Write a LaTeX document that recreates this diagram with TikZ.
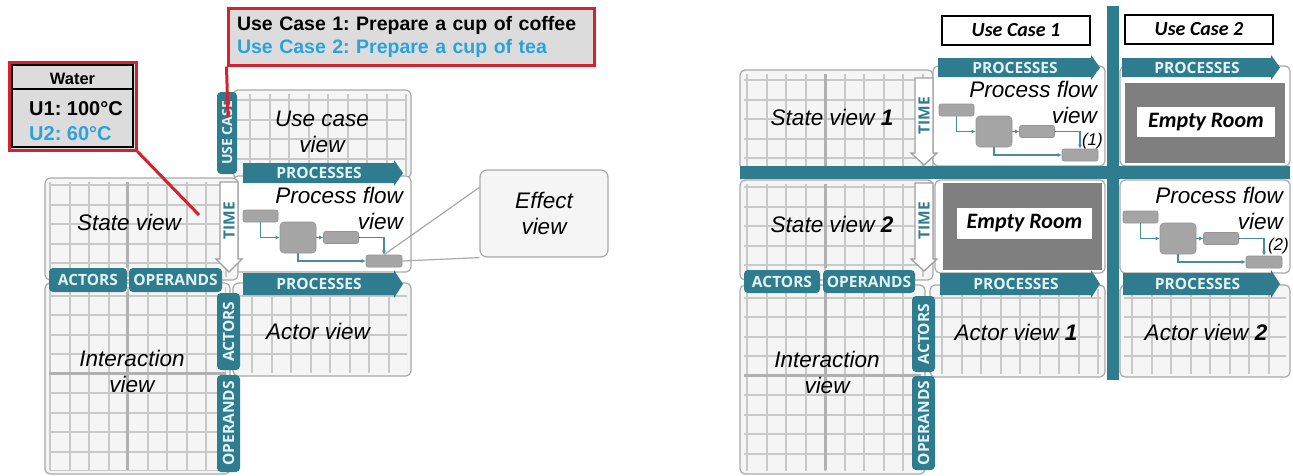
\documentclass[tikz,border=0pt]{standalone}
\usepackage{fontspec}
\setmainfont{Liberation Sans}
\newfontfamily\tabfam{Open Sans}
\newfontfamily\calfam{Carlito}
\usetikzlibrary{arrows.meta}
\frenchspacing

\definecolor{tealbar}{HTML}{2F7C8E}
\definecolor{tabtext}{HTML}{E2F2F5}
\definecolor{callred}{HTML}{D2232E}
\definecolor{callblue}{HTML}{2AA3DD}
\definecolor{gridgray}{HTML}{C9C9C9}
\definecolor{framegray}{HTML}{A9A9A9}
\definecolor{cellgray}{HTML}{F5F5F5}
\definecolor{boxgray}{HTML}{A5A5A5}
\definecolor{roomgray}{HTML}{7F7F7F}
\definecolor{flowteal}{HTML}{4B8D9D}
\definecolor{notegray}{HTML}{DCDCDC}

\tikzset{
  panelframe/.style={draw=framegray, line width=1.2, fill=cellgray, rounded corners=5},
  whitepanel/.style={draw=framegray, line width=1.2, fill=white, rounded corners=5},
  gridline/.style={draw=gridgray, line width=2},
  thickgrid/.style={draw=gridgray!88!black, line width=3},
  tabfont/.style={font=\tabfam\bfseries\fontsize{15.5}{16}\selectfont},
  tabbox/.style={tabfont, fill=tealbar, rounded corners=4, text=tabtext, inner sep=0},
  vtabbox/.style={tabbox, rotate=90},
  proctext/.style={tabfont, text=tabtext, inner sep=0},
  timeframe/.style={draw=gray!75, fill=white, line width=1.3, line join=miter},
  timetext/.style={tabfont, text=tealbar, rotate=90, inner sep=0},
  viewlabel/.style={inner sep=0, font=\itshape\fontsize{22.5}{26}\selectfont},
  fbox/.style={fill=boxgray, draw=boxgray!90!black, line width=0.6, rounded corners=2, inner sep=0},
  flow/.style={draw=flowteal, line width=1.1, -{Latex[length=4pt,width=4pt]}},
  redline/.style={draw=callred, line width=3},
  casebox/.style={draw=black, line width=1.5, fill=white, minimum width=148, minimum height=29,
    inner sep=0, font=\calfam\bfseries\itshape\fontsize{20}{22}\selectfont},
  roomfill/.style={fill=roomgray, inner sep=0},
  roomlabel/.style={fill=white, inner sep=0, font=\calfam\bfseries\itshape\fontsize{22}{24}\selectfont},
}

% grid panel: x1 y1 x2 y2, first vertical grid line, first horizontal grid line
\newcommand\gridpanel[6]{%
  \draw[panelframe] (#1,#2) rectangle (#3,#4);
  \begin{scope}
    \clip (#1+4,#2+4) rectangle (#3-4,#4-4);
    \foreach \k in {0,...,10} {
      \draw[gridline] ({#5+\k*19.5},#2) -- ({#5+\k*19.5},#4);
      \draw[gridline] (#1,{#6+\k*19.5}) -- (#3,{#6+\k*19.5});
    }
  \end{scope}
}

% teal arrow labelled PROCESSES: name x1 y1 x2 y2
\newcommand\procarrow[5]{%
  \fill[tealbar] (#2,#3) -- (#4-9,#3) -- (#4-9,#3-3) -- (#4,{(#3+#5)/2})
    -- (#4-9,#5+3) -- (#4-9,#5) -- (#2,#5) -- cycle;
  \node[proctext] (#1) at ({(#2+#4)/2-4},{(#3+#5)/2}) {PROCESSES};
}

% downward TIME arrow: name x1 y1 x2 y(head start) y(tip)
\newcommand\timetab[6]{%
  \draw[timeframe] (#2,#3) -- (#4,#3) -- (#4,#5) -- (#4+4,#5) -- ({(#2+#4)/2},#6)
    -- (#2-4,#5) -- (#2,#5) -- cycle;
  \node[timetext] (#1) at ({(#2+#4)/2},{(#3+#5)/2}) {TIME};
}

% small process flow: prefix, top-left corner of the first box
\newcommand\miniflow[3]{%
  \node[fbox, minimum width=35, minimum height=12] (#1a) at (#2+17.5,#3+6) {};
  \node[fbox, minimum width=36, minimum height=31, rounded corners=4] (#1b) at (#2+55,#3+27.5) {};
  \node[fbox, minimum width=35, minimum height=12] (#1c) at (#2+98,#3+27.5) {};
  \node[fbox, minimum width=36, minimum height=12] (#1d) at (#2+141,#3+51) {};
  \draw[flow] (#1a.south) |- (#1b.west);
  \draw[flow] (#1b.east) -- (#1c.west);
  \draw[flow] (#1c.east) -| (#1d.north);
  \draw[flow] (#1b.south) |- (#1d.west);
}

\begin{document}
\begin{tikzpicture}[x=1pt, y=-1pt]
\fill[white] (0,0) rectangle (1293,475);
\path[use as bounding box] (0,0) rectangle (1293,475);

% ================= single use case =================
% panels
\gridpanel{233}{90}{411}{178}{250}{100}
\draw[whitepanel] (233,176) rectangle (411,272);
\gridpanel{45}{178}{238}{280}{50}{185}
\draw[thickgrid] (127.6,182) -- (127.6,268);
\gridpanel{233}{283}{411}{376}{252}{276}
\gridpanel{45}{283}{230}{474}{50}{276}
\draw[thickgrid] (127.6,292) -- (127.6,470);
\draw[thickgrid] (49,373.5) -- (226,373.5);

% tabs
\node[vtabbox, minimum width=82, minimum height=20,
  font=\tabfam\bfseries\fontsize{14}{15}\selectfont] (lusecase) at (227,133) {USE CASE};
\timetab{ltime}{220}{182}{238}{259}{272}
\node[tabbox, minimum width=78, minimum height=24] (lactorsh) at (88,280) {ACTORS};
\node[tabbox, minimum width=93, minimum height=24] (loperandsh) at (175.5,280) {OPERANDS};
\node[vtabbox, minimum width=77, minimum height=23] (lactorsv) at (228.5,331.5) {ACTORS};
\node[vtabbox, minimum width=97, minimum height=23] (loperandsv) at (228.5,423.5) {OPERANDS};
\procarrow{lproc1}{243}{163}{403}{183}
\procarrow{lproc2}{243}{273}{403}{295}

% view labels
\node[viewlabel, align=center] (lucview) at (322,131.6) {Use case\\view};
\node[viewlabel, align=right, anchor=east] (lpfview) at (403,208.5) {Process flow\\view};
\node[viewlabel, anchor=base] (lstate) at (129,230) {State view};
\node[viewlabel, anchor=base] (lactor) at (318,339) {Actor view};
\node[viewlabel, align=center] (linter) at (132,371.5) {Interaction\\view};

% process flow sketch and effect callout
\miniflow{lf}{243}{210}
\node[draw=framegray, line width=1.2, fill=gray!8, rounded corners=7, minimum width=128,
  minimum height=87, viewlabel, align=center] (effect) at (544,213.5) {Effect\\view};
\draw[framegray, line width=1.2] (effect.158) -- (lfd.north);
\draw[framegray, line width=1.2] (effect.south west) -- (lfd.east);

% notes in red frames
\node[draw=callred, line width=3, fill=notegray, minimum width=366, minimum height=57,
  text width=348, inner xsep=9, inner ysep=0, align=left,
  font=\bfseries\fontsize{19.5}{23}\selectfont] (ucbox) at (411,36.5)
  {Use Case 1: Prepare a cup of coffee\\\textcolor{callblue}{Use Case 2: Prepare a cup of tea}};
\coordinate (ucend) at (228,117);
\draw[redline] (ucbox.south west) -- (ucend);

\node[draw=callred, line width=3, fill=notegray, minimum width=127, minimum height=88,
  inner sep=0] (water) at (72.5,106) {};
\draw[black, line width=1.6] (12,65) rectangle (133,147);
\draw[black, line width=1.3] (12,89) -- (133,89);
\node[inner sep=0, font=\bfseries\fontsize{16.5}{18}\selectfont, anchor=base] (waterhead) at (72.5,84) {Water};
\node[inner sep=0, font=\bfseries\fontsize{20}{22}\selectfont, anchor=base west] (wateru1) at (29,115) {U1: 100°C};
\node[inner sep=0, font=\bfseries\fontsize{20}{22}\selectfont, anchor=base west, text=callblue] (wateru2) at (29,140) {U2: 60°C};
\coordinate (wend) at (199,215);
\draw[redline] (water.south east) -- (wend);

% ================= two use cases =================
\node[casebox] (case1) at (1016,30.5) {Use Case 1};
\node[casebox] (case2) at (1199,29.5) {Use Case 2};

% panels
\gridpanel{740}{70}{933}{170}{747}{80}
\draw[thickgrid] (825,74) -- (825,166);
\draw[whitepanel] (933,66) rectangle (1105,166);
\draw[whitepanel] (1120,66) rectangle (1290,166);
\gridpanel{740}{180}{933}{280}{747}{187}
\draw[thickgrid] (825,184) -- (825,268);
\draw[whitepanel] (935,180) rectangle (1105,273);
\draw[whitepanel] (1120,180) rectangle (1290,273);
\gridpanel{930}{285}{1105}{377}{942}{278}
\gridpanel{1120}{285}{1290}{377}{1132}{278}
\gridpanel{740}{285}{925}{474}{747}{278}
\draw[thickgrid] (825,292) -- (825,470);
\draw[thickgrid] (744,375.5) -- (921,375.5);

% empty rooms
\node[roomfill, minimum width=160, minimum height=80] (room2) at (1205,123) {};
\node[roomlabel, minimum width=138, minimum height=30] (room2t) at (1206,122) {Empty Room};
\node[roomfill, minimum width=159, minimum height=87] (room1) at (1022.5,226.5) {};
\node[roomlabel, minimum width=135, minimum height=31] (room1t) at (1024.5,223.5) {Empty Room};

% process flows
\miniflow{ra}{939}{104}
\miniflow{rb}{1123}{211}
\node[viewlabel, align=right, anchor=east] (rpf1) at (1097,102) {Process flow\\view};
\node[inner sep=0, font=\itshape\fontsize{17}{18}\selectfont, anchor=base east] (rpf1n) at (1103,145) {(1)};
\node[viewlabel, align=right, anchor=east] (rpf2) at (1283,208.5) {Process flow\\view};
\node[inner sep=0, font=\itshape\fontsize{17}{18}\selectfont, anchor=base east] (rpf2n) at (1289,250) {(2)};

% tabs
\timetab{rtime1}{915}{78}{933}{153}{165}
\timetab{rtime2}{915}{183}{933}{259}{271}
\node[tabbox, minimum width=76, minimum height=23] (ractorsh) at (782,281.5) {ACTORS};
\node[tabbox, minimum width=92, minimum height=23] (roperandsh) at (869,281.5) {OPERANDS};
\node[vtabbox, minimum width=76, minimum height=23] (ractorsv) at (923.5,334) {ACTORS};
\node[vtabbox, minimum width=94, minimum height=23] (roperandsv) at (923.5,423) {OPERANDS};
\procarrow{rproc1}{938}{58}{1100}{77}
\procarrow{rproc2}{1122}{58}{1280}{77}
\procarrow{rproc3}{940}{273}{1100}{295}
\procarrow{rproc4}{1123}{273}{1280}{295}

% separating bars
\fill[tealbar] (740,166) rectangle (1290,179);
\fill[tealbar] (1107,6) rectangle (1119,380);

% view labels
\node[viewlabel, anchor=base] (rstate1) at (832,125) {State view \textbf{1}};
\node[viewlabel, anchor=base] (rstate2) at (832,232) {State view \textbf{2}};
\node[viewlabel, anchor=base] (ractor1) at (1016,340) {Actor view \textbf{1}};
\node[viewlabel, anchor=base] (ractor2) at (1206,340) {Actor view \textbf{2}};
\node[viewlabel, align=center] (rinter) at (827,372) {Interaction\\view};
\end{tikzpicture}
\end{document}
